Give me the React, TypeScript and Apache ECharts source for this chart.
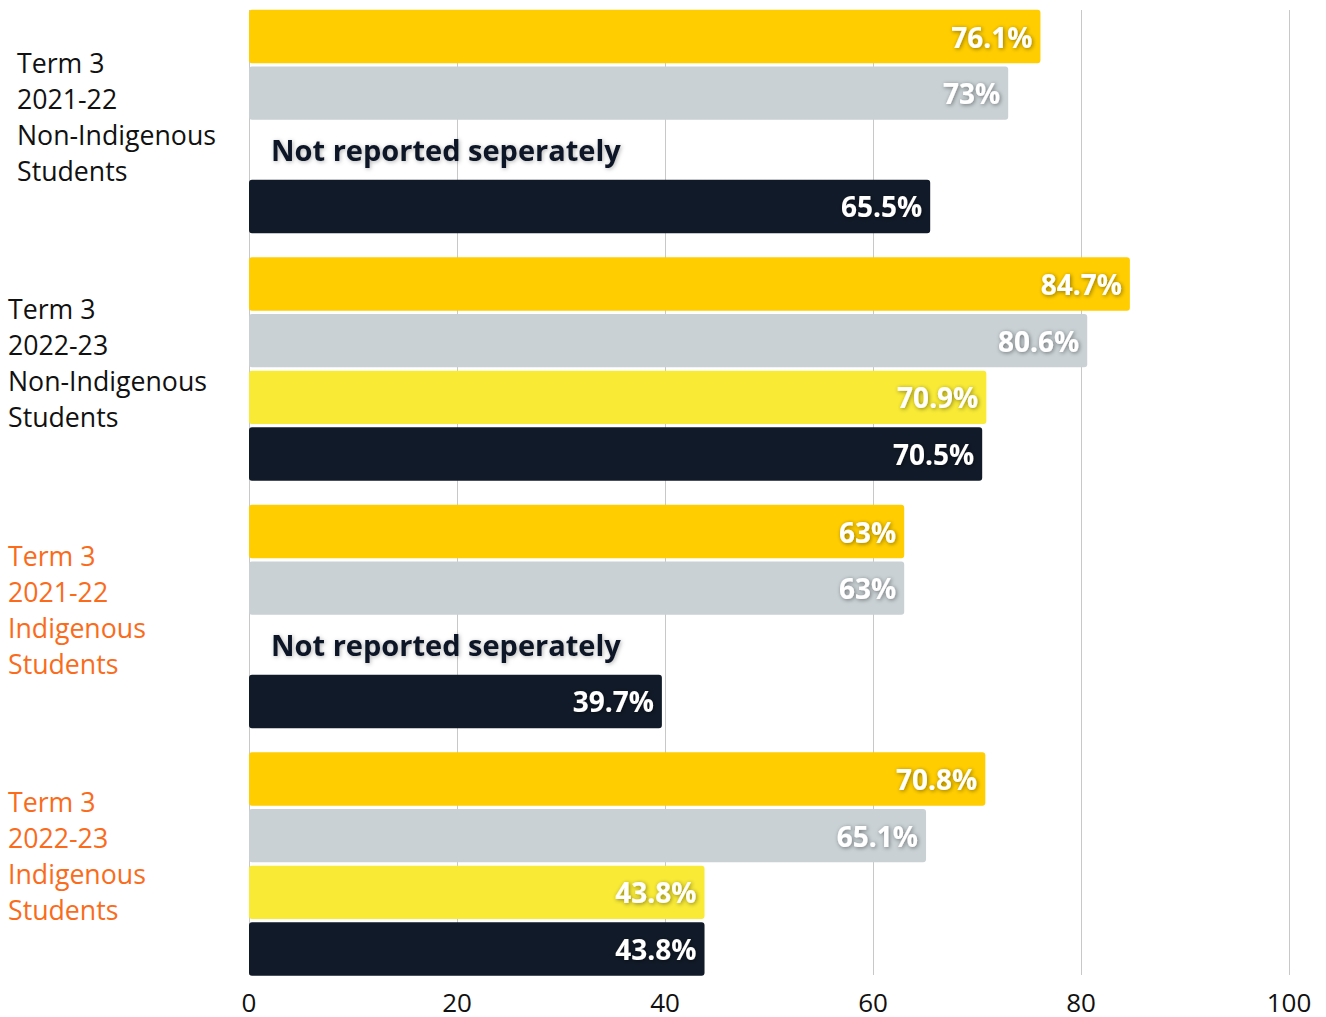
import React, { useEffect, useRef } from "react";
import * as echarts from "echarts";

const categories = [
  "Term 3\n2021-22\nNon-Indigenous\nStudents",
  "Term 3\n2022-23\nNon-Indigenous\nStudents",
  "Term 3\n2021-22\nIndigenous\nStudents",
  "Term 3\n2022-23\nIndigenous\nStudents",
];
const categoryColors = ["#111111", "#111111", "#FA6B1B", "#FA6B1B"];
const categoryIndent = [9, 0, 0, 0];

const seriesA = [76.1, 84.7, 63, 70.8];
const seriesB = [73, 80.6, 63, 65.1];
const seriesC: (number | null)[] = [null, 70.9, null, 43.8];
const seriesD = [65.5, 70.5, 39.7, 43.8];
const seriesColors = ["#FFCD00", "#C9D1D4", "#F8EA35", "#111A28"];
const notReportedText = "Not reported seperately";

const xTicks = { min: 0, max: 100, interval: 20 };
const FONT = "'Open Sans', sans-serif";

export default function App() {
  const ref = useRef<HTMLDivElement>(null);
  useEffect(() => {
    document.body.style.margin = "0";
    const chart = echarts.init(ref.current!, null, { renderer: "svg" });
    const valueLabel = {
      show: true,
      position: "insideRight",
      distance: 8,
      color: "#ffffff",
      fontFamily: FONT,
      fontWeight: "bold",
      fontSize: 28,
      textShadowColor: "rgba(0,0,0,0.45)",
      textShadowBlur: 4,
      textShadowOffsetX: 1,
      textShadowOffsetY: 1,
      formatter: (p: any) => p.value + "%",
    };
    const mk = (vals: (number | null)[], color: string) => ({
      type: "bar",
      xAxisIndex: 1,
      yAxisIndex: 1,
      barWidth: 53.3,
      barGap: "6.3%",
      itemStyle: { color, borderRadius: 3 },
      label: valueLabel,
      data: vals.map((v) =>
        v === null
          ? {
              value: 0,
              label: {
                show: true,
                position: "right",
                distance: 22,
                color: "#111827",
                fontFamily: FONT,
                fontWeight: "bold",
                fontSize: 29,
                textShadowColor: "rgba(0,0,0,0.3)",
                textShadowBlur: 4,
                textShadowOffsetX: 1,
                textShadowOffsetY: 1,
                formatter: notReportedText,
              },
            }
          : v
      ),
    });
    const gridBase = { left: 249, width: 1040, outerBoundsMode: "none", containLabel: false };
    chart.setOption({
      animation: false,
      grid: [
        { ...gridBase, top: 10, height: 965 },
        { ...gridBase, top: -2.25, height: 990 },
        { ...gridBase, top: -7.25, height: 986 },
      ],
      xAxis: [
        {
          gridIndex: 0,
          type: "value",
          ...xTicks,
          axisLine: { show: false },
          axisTick: { show: false },
          splitLine: { show: true, lineStyle: { color: "#c8c8c8", width: 1 } },
          axisLabel: {
            color: "#111111",
            fontFamily: FONT,
            fontSize: 26,
            lineHeight: 26,
            margin: 14,
          },
        },
        { gridIndex: 1, type: "value", ...xTicks, show: false },
        { gridIndex: 2, type: "value", ...xTicks, show: false },
      ],
      yAxis: [
        { gridIndex: 0, type: "value", show: false, min: 0, max: 1 },
        {
          gridIndex: 1,
          type: "category",
          inverse: true,
          data: categories,
          axisLine: { show: false },
          axisTick: { show: false },
          splitLine: { show: false },
          axisLabel: { show: false },
        },
        {
          gridIndex: 2,
          type: "category",
          inverse: true,
          data: categories.map((c, i) => ({
            value: c,
            textStyle: {
              color: categoryColors[i],
              align: "left",
              verticalAlign: "middle",
              fontFamily: FONT,
              fontSize: 26.7,
              lineHeight: 36,
              padding: [0, 0, 0, categoryIndent[i]],
            },
          })),
          axisLine: { show: false },
          axisTick: { show: false },
          splitLine: { show: false },
          axisLabel: {
            align: "left",
            margin: 241,
            fontFamily: FONT,
            fontSize: 26.7,
            lineHeight: 36,
          },
        },
      ],
      series: [
        mk(seriesA, seriesColors[0]),
        mk(seriesB, seriesColors[1]),
        mk(seriesC, seriesColors[2]),
        mk(seriesD, seriesColors[3]),
      ],
    });
    return () => chart.dispose();
  }, []);
  return <div ref={ref} style={{ width: 1326, height: 1017 }} />;
}
